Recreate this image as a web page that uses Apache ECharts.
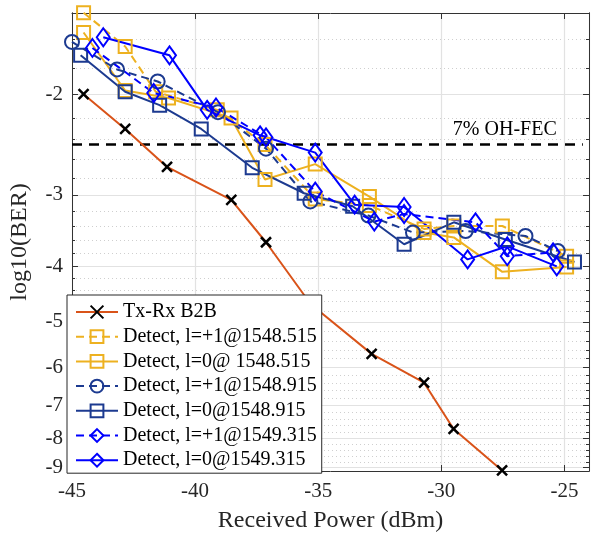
<!DOCTYPE html>
<html>
<head>
<meta charset="utf-8">
<script src="https://cdn.jsdelivr.net/npm/echarts@6/dist/echarts.min.js"></script>
<style>
  html, body { margin: 0; padding: 0; background: #fff; }
  #chart { width: 595px; height: 538px; }
</style>
</head>
<body>
<div id="chart"></div>
<script>
// received power (dBm) and log10(BER)
const b2bX = [-44.53, -42.84, -41.14, -38.53, -37.12, -35.30, -32.83, -30.70, -29.50, -27.53];
const b2bY = [-2.00, -2.30, -2.68, -3.06, -3.63, -4.66, -5.69, -6.39, -7.70, -9.10];

const y515p1X = [-44.53, -42.84, -41.60, -39.10, -37.16, -35.12, -32.92, -30.70, -29.49, -27.52, -24.91];
const y515p1Y = [-1.44, -1.65, -1.98, -2.13, -2.45, -3.05, -3.13, -3.44, -3.40, -3.40, -3.84];

const y515z0X = [-44.53, -42.84, -41.08, -38.54, -37.16, -35.12, -32.92, -30.70, -29.49, -27.52, -24.91];
const y515z0Y = [-1.56, -1.97, -2.03, -2.20, -2.82, -2.65, -3.02, -3.49, -3.56, -4.09, -4.01];

const y915p1X = [-45.00, -43.17, -41.52, -39.07, -37.12, -35.32, -32.96, -31.15, -29.01, -26.58, -25.27];
const y915p1Y = [-1.62, -1.81, -1.90, -2.15, -2.49, -3.08, -3.26, -3.49, -3.47, -3.54, -3.76];

const y915z0X = [-44.65, -42.84, -41.44, -39.75, -37.68, -35.57, -33.60, -31.51, -29.49, -27.40, -24.59];
const y915z0Y = [-1.71, -1.98, -2.09, -2.30, -2.69, -2.98, -3.14, -3.66, -3.35, -3.59, -3.93];

const y1315p1X = [-44.17, -41.68, -39.15, -37.12, -35.12, -32.72, -31.51, -28.61, -27.32, -25.46];
const y1315p1Y = [-1.66, -1.99, -2.11, -2.38, -2.96, -3.34, -3.24, -3.35, -3.84, -3.78];

const y1315z0X = [-43.73, -41.04, -39.51, -37.36, -35.12, -33.52, -31.51, -28.93, -27.32, -25.31];
const y1315z0Y = [-1.59, -1.71, -2.13, -2.36, -2.53, -3.12, -3.15, -3.89, -3.69, -4.00];

const fecLevel = -2.45;
const fecX = [-45, -24.25];

const yMajorTicks = [-2, -3, -4, -5, -6, -7, -8, -9];
const yMinorTicks = [-1.6, -1.8, -2.2, -2.4, -2.6, -2.8, -3.2, -3.4, -3.6, -3.8,
  -4.2, -4.4, -4.6, -4.8, -5.2, -5.4, -5.6, -5.8, -6.2, -6.4, -6.6, -6.8,
  -7.2, -7.4, -7.6, -7.8, -8.2, -8.4, -8.6, -8.8];
const yTop = -1.442, yBottom = -9.12;

const names = ['Tx-Rx B2B', 'Detect, l=+1@1548.515', 'Detect, l=0@ 1548.515',
  'Detect, l=+1@1548.915', 'Detect, l=0@1548.915', 'Detect, l=+1@1549.315', 'Detect, l=0@1549.315'];

// the y axis is drawn as log10(-log10(BER)), pointing down
const tf = v => Math.log10(-v);
const pts = (xs, ys) => xs.map((x, i) => [x, tf(ys[i])]);

const FONT = '"Liberation Serif", "Times New Roman", serif';
const TXT = '#262626';
const AX = '#333333';
const YELLOW = '#EDB120', NAVY = '#1c3a90', BLUE = '#0000ff';

const chart = echarts.init(document.getElementById('chart'));

function mk(name, xs, ys, color, dashed, symbol, size) {
  return {
    name: name,
    type: 'line',
    data: pts(xs, ys),
    symbol: symbol,
    symbolSize: size,
    clip: false,
    lineStyle: { color: color, width: 2, type: dashed ? [8, 5] : 'solid' },
    itemStyle: { color: 'rgba(0,0,0,0)', borderColor: color, borderWidth: 2 },
    z: 3
  };
}

function yAx(pos, ticks, len, labels, split) {
  return {
    type: 'value',
    position: pos,
    inverse: true,
    min: tf(yTop),
    max: tf(yBottom),
    axisLine: { show: true, onZero: false, lineStyle: { color: AX, width: 1 } },
    axisTick: { show: true, inside: true, length: len, customValues: ticks.map(tf), lineStyle: { color: AX } },
    axisLabel: labels ? {
      customValues: ticks.map(tf),
      formatter: v => '-' + Math.round(Math.pow(10, v)),
      fontFamily: FONT, fontSize: 21, color: TXT, margin: 9
    } : { show: false },
    splitLine: split || { show: false }
  };
}

const yAxes = [
  yAx('left', yMajorTicks, 6, true, { show: true, lineStyle: { color: '#e2e2e2', width: 1.2 } }),
  yAx('left', yMinorTicks, 3, false, { show: true, lineStyle: { color: '#cfcfcf', width: 1, type: [1, 3] } }),
  yAx('right', yMajorTicks, 6, false, null),
  yAx('right', yMinorTicks, 3, false, null)
];
yAxes[0].name = 'log10(BER)';
yAxes[0].nameLocation = 'middle';
yAxes[0].nameGap = 40;
yAxes[0].nameTextStyle = { fontFamily: FONT, fontSize: 24, color: TXT };

const series = [
  {
    name: names[0], type: 'line', data: pts(b2bX, b2bY),
    symbol: 'path://M0 0L10 10M10 0L0 10', symbolSize: 10, clip: false,
    lineStyle: { color: '#D95319', width: 2 },
    itemStyle: { color: '#000', borderColor: '#000', borderWidth: 2.5 },
    z: 3
  },
  mk(names[1], y515p1X, y515p1Y, YELLOW, true, 'rect', 13),
  mk(names[2], y515z0X, y515z0Y, YELLOW, false, 'rect', 13),
  mk(names[3], y915p1X, y915p1Y, NAVY, true, 'circle', 14),
  mk(names[4], y915z0X, y915z0Y, NAVY, false, 'rect', 13),
  mk(names[5], y1315p1X, y1315p1Y, BLUE, true, 'diamond', [13, 18]),
  mk(names[6], y1315z0X, y1315z0Y, BLUE, false, 'diamond', [13, 18]),
  {
    name: 'FEC', type: 'line', data: fecX.map(x => [x, tf(fecLevel)]),
    symbol: 'none', silent: true, clip: false,
    lineStyle: { color: '#000', width: 2.5, type: [10, 7] },
    z: 2
  }
];

chart.setOption({
  animation: false,
  backgroundColor: '#fff',
  grid: { left: 67, right: 6, top: 13, bottom: 66, containLabel: false },
  xAxis: [
    {
      type: 'value', position: 'bottom', min: -45, max: -24, interval: 5,
      axisLine: { show: true, onZero: false, lineStyle: { color: AX, width: 1 } },
      axisTick: { show: true, inside: true, length: 6, lineStyle: { color: AX } },
      axisLabel: { fontFamily: FONT, fontSize: 21, color: TXT, margin: 10, showMaxLabel: false },
      splitLine: { show: true, lineStyle: { color: '#e2e2e2', width: 1.2 } },
      name: 'Received Power (dBm)', nameLocation: 'middle', nameGap: 38,
      nameTextStyle: { fontFamily: FONT, fontSize: 24, color: TXT }
    },
    {
      type: 'value', position: 'top', min: -45, max: -24, interval: 5,
      axisLine: { show: true, onZero: false, lineStyle: { color: AX, width: 1 } },
      axisTick: { show: true, inside: true, length: 6, lineStyle: { color: AX } },
      axisLabel: { show: false },
      splitLine: { show: false }
    }
  ],
  yAxis: yAxes,
  legend: {
    data: names,
    orient: 'vertical',
    left: 67, top: 295,
    padding: [7, 5, 3, 8],
    itemGap: 4.7,
    itemWidth: 42, itemHeight: 16,
    backgroundColor: '#fff',
    borderColor: '#262626', borderWidth: 1, borderRadius: 0,
    textStyle: { fontFamily: FONT, fontSize: 20, color: '#000', lineHeight: 20 },
    z: 10
  },
  series: series
});

const lp = chart.convertToPixel({ xAxisIndex: 0, yAxisIndex: 0 }, [-25.31, tf(-2.31)]);
chart.setOption({
  graphic: [{
    type: 'text', x: lp[0], y: lp[1], z: 5,
    style: { text: '7% OH-FEC', fontFamily: FONT, fontSize: 20, fill: '#000', align: 'right', verticalAlign: 'middle' }
  }]
});
</script>
</body>
</html>
